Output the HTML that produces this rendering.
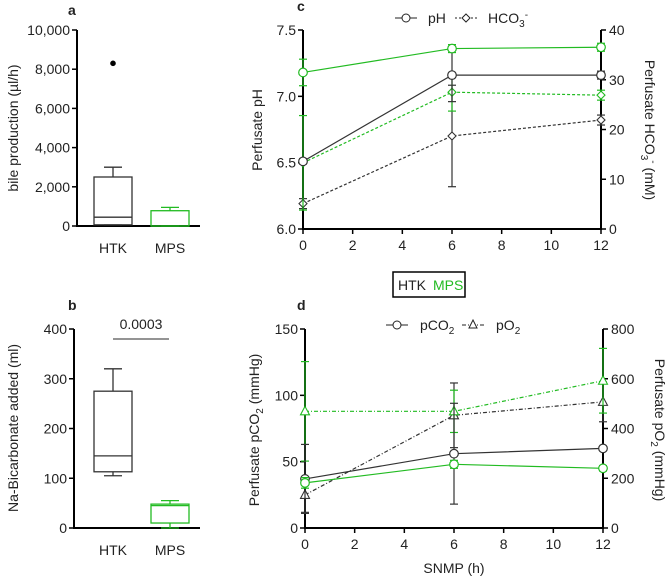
<!DOCTYPE html>
<html><head><meta charset="utf-8"><style>
body{margin:0;background:#fff;}
svg{font-family:"Liberation Sans",Arial,sans-serif;}
text{fill:#222;}
</style></head><body>
<svg id="fig" width="668" height="579" viewBox="0 0 668 579" xmlns="http://www.w3.org/2000/svg">
<g id="root"></g>
<text x="68" y="15" font-size="14" font-weight="bold">a</text>
<text x="68" y="310" font-size="14" font-weight="bold">b</text>
<text x="297" y="11" font-size="14" font-weight="bold">c</text>
<text x="297" y="310" font-size="14" font-weight="bold">d</text>
<text transform="translate(18,128) rotate(-90)" text-anchor="middle" font-size="14">bile production (µl/h)</text>
<text transform="translate(18,428) rotate(-90)" text-anchor="middle" font-size="14">Na-Bicarbonate added (ml)</text>
<text transform="translate(262,130) rotate(-90)" text-anchor="middle" font-size="14">Perfusate pH</text>
<text transform="translate(645,130) rotate(90)" text-anchor="middle" font-size="14">Perfusate HCO<tspan font-size="10" dy="4">3</tspan><tspan font-size="10" dy="-9">-</tspan><tspan dy="5"> (mM)</tspan></text>
<text transform="translate(259,430) rotate(-90)" text-anchor="middle" font-size="14">Perfusate pCO<tspan font-size="10" dy="4">2</tspan><tspan dy="-4"> (mmHg)</tspan></text>
<text transform="translate(655,430) rotate(90)" text-anchor="middle" font-size="14">Perfusate pO<tspan font-size="10" dy="4">2</tspan><tspan dy="-4"> (mmHg)</tspan></text>
<text x="454" y="573" text-anchor="middle" font-size="14">SNMP (h)</text>
<g>
<rect x="393" y="272" width="72" height="25" fill="#fff" stroke="#000" stroke-width="1.5"/>
<text x="398" y="290" font-size="14">HTK</text>
<text x="433" y="290" font-size="14" style="fill:#22bb22">MPS</text>
</g>
<g>
<line x1="395" y1="18" x2="417" y2="18" stroke="#222"/><circle cx="406" cy="18" r="4" fill="#fff" stroke="#222"/>
<text x="428" y="23" font-size="14">pH</text>
<line x1="455" y1="18" x2="477" y2="18" stroke="#222" stroke-dasharray="2,2"/><path d="M466 14 L470 18 L466 22 L462 18Z" fill="#fff" stroke="#222"/>
<text x="488" y="23" font-size="14">HCO<tspan font-size="10" dy="4">3</tspan><tspan font-size="10" dy="-9">-</tspan></text>
</g>
<g>
<line x1="386" y1="325" x2="408" y2="325" stroke="#222"/><circle cx="397" cy="325" r="4" fill="#fff" stroke="#222"/>
<text x="420" y="330" font-size="14">pCO<tspan font-size="10" dy="4">2</tspan></text>
<line x1="462" y1="325" x2="484" y2="325" stroke="#222" stroke-dasharray="4,2,1,2"/><path d="M473 320 L477 328 L469 328Z" fill="#fff" stroke="#222"/>
<text x="496" y="330" font-size="14">pO<tspan font-size="10" dy="4">2</tspan></text>
</g>
</svg>
<script>
// ---- Panel a data (bile production µl/h) ----
const aGroups = ["HTK","MPS"];
const aMin = [50, 0];
const aQ1 = [60, 0];
const aMed = [450, 0];
const aQ3 = [2500, 780];
const aMax = [3000, 950];
const aOutlierVals = [8300];
const aTicks = [0,2000,4000,6000,8000,10000];
const aTickLabels = ["0","2,000","4,000","6,000","8,000","10,000"];
// ---- Panel b data (Na-bicarbonate ml) ----
const bGroups = ["HTK","MPS"];
const bMin = [105, 0];
const bQ1 = [113, 10];
const bMed = [145, 45];
const bQ3 = [275, 48];
const bMax = [320, 55];
const bTicks = [0,100,200,300,400];
const pValueText = "0.0003";
// ---- Panel c data ----
const timeHours = [0, 6, 12];
const xTicks = [0,2,4,6,8,10,12];
const phHTK = [6.51, 7.16, 7.16];
const phHTKErr = [0.02, 0.2, 0.03];
const phMPS = [7.18, 7.36, 7.37];
const phMPSErr = [0.1, 0.03, 0.03];
const hco3HTK = [5.1, 18.7, 21.9];
const hco3HTKErr = [1, 10.2, 1];
const hco3MPS = [13.3, 27.5, 26.9];
const hco3MPSErr = [9.5, 3.8, 1];
const phTicks = [6.0, 6.5, 7.0, 7.5];
const hco3Ticks = [0,10,20,30,40];
// ---- Panel d data ----
const pco2HTK = [37, 56, 60];
const pco2HTKErr = [26, 38, 0.5];
const pco2MPS = [34, 48, 45];
const pco2MPSErr = [4, 3, 2];
const po2HTK = [133, 453, 507];
const po2HTKErr = [70, 130, 80];
const po2MPS = [469, 469, 592];
const po2MPSErr = [200, 85, 130];
const pco2Ticks = [0,50,100,150];
const po2Ticks = [0,200,400,600,800];

const NS="http://www.w3.org/2000/svg";
const root=document.getElementById('root');
const G="#22bb22";
const FS=14;
function mk(tag,attrs,parent){const e=document.createElementNS(NS,tag);for(const k in attrs)e.setAttribute(k,attrs[k]);(parent||root).appendChild(e);return e;}
function lin(d0,d1,r0,r1){return v=>r0+(v-d0)/(d1-d0)*(r1-r0);}

function boxPanel(name,axX,y0,y1,dmax,ticks,labels,groups,mn,q1,md,q3,mx,xEnd){
  const y=lin(0,dmax,y0,y1);
  const g=mk('g',{});
  
  
  mk('line',{x1:axX,y1:y1,x2:axX,y2:y0+1,stroke:'#000','stroke-width':2},g);
  mk('line',{x1:axX,y1:y0,x2:xEnd,y2:y0,stroke:'#000','stroke-width':2},g);
  ticks.forEach((t,i)=>{
    mk('line',{x1:axX-5,y1:y(t),x2:axX,y2:y(t),stroke:'#000','stroke-width':1.5},g);
    const tx=mk('text',{x:axX-7,y:y(t)+5,'text-anchor':'end','font-size':FS},g);
    tx.textContent=labels?labels[i]:String(t);
  });
  const cx=[113,170], hw=19;
  groups.forEach((grp,i)=>{
    const c=i==0?'#333':G;
    const bg=mk('g',{},g);
    
    
    mk('rect',{x:cx[i]-hw,y:y(q3[i]),width:2*hw,height:Math.max(0.5,y(q1[i])-y(q3[i])),fill:'none',stroke:c,'stroke-width':1.3},bg);
    mk('line',{x1:cx[i]-hw,y1:y(md[i]),x2:cx[i]+hw,y2:y(md[i]),stroke:c,'stroke-width':1.3},bg);
    mk('line',{x1:cx[i],y1:y(q3[i]),x2:cx[i],y2:y(mx[i]),stroke:c,'stroke-width':1.3},bg);
    mk('line',{x1:cx[i]-9,y1:y(mx[i]),x2:cx[i]+9,y2:y(mx[i]),stroke:c,'stroke-width':1.3},bg);
    mk('line',{x1:cx[i],y1:y(q1[i]),x2:cx[i],y2:y(mn[i]),stroke:c,'stroke-width':1.3},bg);
    mk('line',{x1:cx[i]-9,y1:y(mn[i]),x2:cx[i]+9,y2:y(mn[i]),stroke:c,'stroke-width':1.3},bg);
    const lt=mk('text',{x:cx[i],y:y0+27,'text-anchor':'middle','font-size':FS},g);
    
    
    lt.textContent=grp;
  });
  return {y,cx};
}
const pa=boxPanel('panel-a',77,226,30,10000,aTicks,aTickLabels,aGroups,aMin,aQ1,aMed,aQ3,aMax,200);
aOutlierVals.forEach(v=>{
  const o=mk('circle',{cx:pa.cx[0],cy:pa.y(v),r:2.8,fill:'#000'});
  
  
});
const pb=boxPanel('panel-b',74,528,329,400,bTicks,null,bGroups,bMin,bQ1,bMed,bQ3,bMax,200);
const sig=mk('line',{x1:113,y1:339,x2:169,y2:339,stroke:'#555','stroke-width':1.3});


const sigT=mk('text',{x:141,y:329,'text-anchor':'middle','font-size':FS});


sigT.textContent=pValueText;

function linePanel(name,x0px,x1px,yb,yt,lmin,lmax,rmin,rmax,lTicks,rTicks,lFmt){
  const x=lin(0,12,x0px,x1px), yl=lin(lmin,lmax,yb,yt), yr=lin(rmin,rmax,yb,yt);
  const g=mk('g',{});
  
  
  mk('line',{x1:x0px,y1:yt,x2:x0px,y2:yb+1,stroke:'#000','stroke-width':2},g);
  mk('line',{x1:x1px,y1:yt,x2:x1px,y2:yb+1,stroke:'#000','stroke-width':2},g);
  mk('line',{x1:x0px,y1:yb,x2:x1px,y2:yb,stroke:'#000','stroke-width':2},g);
  xTicks.forEach(t=>{
    mk('line',{x1:x(t),y1:yb,x2:x(t),y2:yb+5,stroke:'#000','stroke-width':1.5},g);
    const tx=mk('text',{x:x(t),y:yb+21,'text-anchor':'middle','font-size':FS},g);tx.textContent=t;
  });
  lTicks.forEach(t=>{
    mk('line',{x1:x0px-5,y1:yl(t),x2:x0px,y2:yl(t),stroke:'#000','stroke-width':1.5},g);
    const tx=mk('text',{x:x0px-7,y:yl(t)+5,'text-anchor':'end','font-size':FS},g);tx.textContent=lFmt?lFmt(t):t;
  });
  rTicks.forEach(t=>{
    mk('line',{x1:x1px,y1:yr(t),x2:x1px+5,y2:yr(t),stroke:'#000','stroke-width':1.5},g);
    const tx=mk('text',{x:x1px+8,y:yr(t)+5,'font-size':FS},g);tx.textContent=t;
  });
  return {x,yl,yr};
}
function series(sname,xs,vals,errs,xf,yf,color,dash,marker){
  const g=mk('g',{});
  
  
  vals.forEach((v,i)=>{
    const px=xf(xs[i]);
    const a=yf(v+errs[i]), b=yf(v-errs[i]);
    mk('line',{x1:px,y1:a,x2:px,y2:b,stroke:color,'stroke-width':1.2},g);
    mk('line',{x1:px-4,y1:a,x2:px+4,y2:a,stroke:color,'stroke-width':1.2},g);
    mk('line',{x1:px-4,y1:b,x2:px+4,y2:b,stroke:color,'stroke-width':1.2},g);
  });
  const pts=vals.map((v,i)=>xf(xs[i])+','+yf(v)).join(' ');
  const pl=mk('polyline',{points:pts,fill:'none',stroke:color,'stroke-width':1.2},g);
  if(dash)pl.setAttribute('stroke-dasharray',dash);
  vals.forEach((v,i)=>{
    const px=xf(xs[i]),py=yf(v);
    if(marker=='o')mk('circle',{cx:px,cy:py,r:4.3,fill:'#fff',stroke:color,'stroke-width':1.2},g);
    else if(marker=='d')mk('path',{d:`M${px} ${py-4} L${px+4} ${py} L${px} ${py+4} L${px-4} ${py}Z`,fill:'#fff',stroke:color,'stroke-width':1.1},g);
    else mk('path',{d:`M${px} ${py-5} L${px+4.5} ${py+3.5} L${px-4.5} ${py+3.5}Z`,fill:'#fff',stroke:color,'stroke-width':1.1},g);
  });
}
const pc=linePanel('panel-c',303,601,229,30,6.0,7.5,0,40,phTicks,hco3Ticks,t=>t.toFixed(1));
series('series-hco3-htk',timeHours,hco3HTK,hco3HTKErr,pc.x,pc.yr,'#333','3,2','d');
series('series-hco3-mps',timeHours,hco3MPS,hco3MPSErr,pc.x,pc.yr,G,'3,2','d');
series('series-ph-htk',timeHours,phHTK,phHTKErr,pc.x,pc.yl,'#333',null,'o');
series('series-ph-mps',timeHours,phMPS,phMPSErr,pc.x,pc.yl,G,null,'o');
const pd=linePanel('panel-d',305,603,528,329,0,150,0,800,pco2Ticks,po2Ticks,null);
series('series-po2-htk',timeHours,po2HTK,po2HTKErr,pd.x,pd.yr,'#333','4,2,1,2','t');
series('series-po2-mps',timeHours,po2MPS,po2MPSErr,pd.x,pd.yr,G,'4,2,1,2','t');
series('series-pco2-htk',timeHours,pco2HTK,pco2HTKErr,pd.x,pd.yl,'#333',null,'o');
series('series-pco2-mps',timeHours,pco2MPS,pco2MPSErr,pd.x,pd.yl,G,null,'o');
</script>
</body></html>
